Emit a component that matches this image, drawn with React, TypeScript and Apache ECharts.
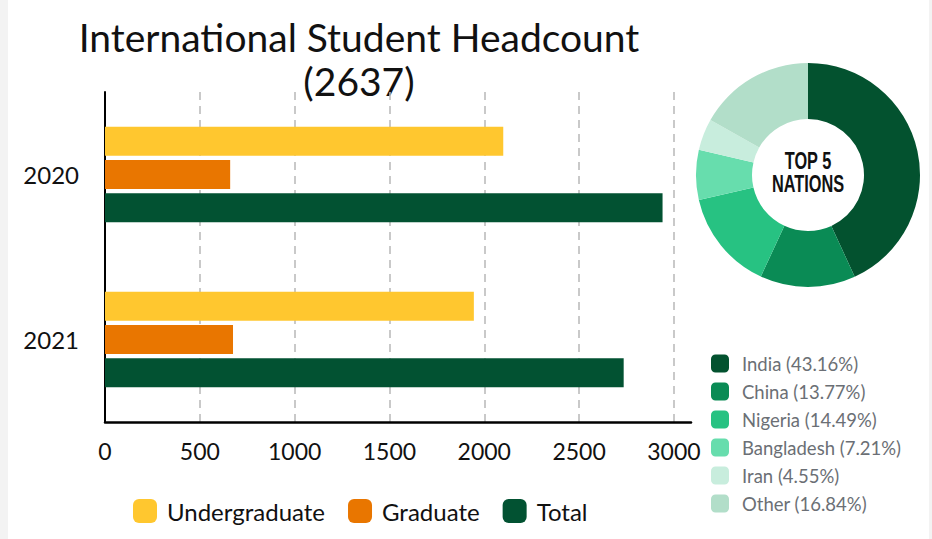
import React, { useEffect, useRef } from "react";
import * as echarts from "echarts";

const years = ["2020", "2021"];
const undergraduate = [2100, 1945];
const graduate = [660, 675];
const total = [2940, 2735];
const xTicks = [0, 500, 1000, 1500, 2000, 2500, 3000];

const nations = ["India", "China", "Nigeria", "Bangladesh", "Iran", "Other"];
const nationShares = [43.16, 13.77, 14.49, 7.21, 4.55, 16.84];
const nationColors = ["#03522F", "#0A8B55", "#27C282", "#67DDAD", "#C8EDDD", "#B2DEC9"];

const titleLines = ["International Student Headcount", "(2637)"];

const FONT = "Lato, 'Open Sans', sans-serif";

export default function App() {
  const ref = useRef<HTMLDivElement>(null);
  useEffect(() => {
    if (!ref.current) return;
    const chart = echarts.init(ref.current, undefined, { renderer: "svg" });
    chart.setOption({
      animation: false,
      backgroundColor: "#ffffff",
      textStyle: { fontFamily: FONT },
      graphic: [
        { type: "rect", left: 0, top: 0, shape: { width: 8, height: 539 }, style: { fill: "#f3f3f3" }, silent: true },
        { type: "rect", left: 929, top: 0, shape: { width: 3, height: 539 }, style: { fill: "#f3f3f3" }, silent: true },
        {
          type: "text",
          x: 359,
          y: 37,
          style: {
            text: titleLines[0],
            fill: "#111111",
            font: `39px ${FONT}`,
            lineHeight: 39,
            align: "center",
            verticalAlign: "middle",
          },
        },
        {
          type: "text",
          x: 359,
          y: 81,
          style: {
            text: titleLines[1],
            fill: "#111111",
            font: `39px ${FONT}`,
            lineHeight: 39,
            align: "center",
            verticalAlign: "middle",
          },
        },
        {
          type: "text",
          x: 808,
          y: 172,
          scaleX: 0.68,
          z: 100,
          style: {
            text: "TOP 5\nNATIONS",
            fill: "#111111",
            font: "bold 24px 'Liberation Sans', Arial, sans-serif",
            lineHeight: 23,
            align: "center",
            verticalAlign: "middle",
          },
        },
      ],
      grid: { left: 105, right: 241, top: 92, bottom: 117, containLabel: false },
      xAxis: {
        type: "value",
        min: 0,
        max: 3090,
        interval: 500,
        axisLine: { show: true, lineStyle: { color: "#000000", width: 2.5 } },
        axisTick: { show: false },
        axisLabel: {
          show: true,
          color: "#111111",
          fontSize: 23,
          fontFamily: FONT,
          margin: 17,
          showMaxLabel: false,
          formatter: (v: number) => (xTicks.includes(v) ? String(v) : ""),
        },
        splitLine: {
          show: true,
          showMinLine: false,
          showMaxLine: false,
          lineStyle: { color: "#b8b8b8", type: [8, 6], width: 1.5 },
        },
      },
      yAxis: {
        type: "category",
        data: years,
        inverse: true,
        axisLine: { show: true, lineStyle: { color: "#000000", width: 2 } },
        axisTick: { show: false },
        axisLabel: { color: "#111111", fontSize: 24, fontFamily: FONT, margin: 26 },
        splitLine: { show: false },
      },
      legend: [
        {
          data: ["Undergraduate", "Graduate", "Total"],
          left: 128,
          top: 494,
          itemWidth: 24,
          itemHeight: 24,
          itemGap: 23,
          icon: "roundRect",
          textStyle: { fontSize: 24, color: "#111111", fontFamily: FONT, padding: [0, 0, 0, 5] },
        },
        {
          data: nations,
          orient: "vertical",
          left: 706,
          top: 349,
          itemWidth: 18,
          itemHeight: 18,
          itemGap: 9,
          icon: "roundRect",
          selectedMode: false,
          textStyle: { fontSize: 18.5, color: "#6b6f75", fontFamily: FONT, padding: [0, 0, 0, 8] },
          formatter: (name: string) => {
            const i = nations.indexOf(name);
            return `${name} (${nationShares[i].toFixed(2)}%)`;
          },
        },
      ],
      series: [
        {
          name: "Undergraduate",
          type: "bar",
          data: undergraduate,
          barWidth: 29,
          barGap: "15%",
          itemStyle: { color: "#FFC72F" },
        },
        {
          name: "Graduate",
          type: "bar",
          data: graduate,
          barWidth: 29,
          barGap: "15%",
          itemStyle: { color: "#E97600" },
        },
        {
          name: "Total",
          type: "bar",
          data: total,
          barWidth: 29,
          barGap: "15%",
          itemStyle: { color: "#025232" },
        },
        {
          name: "Nations",
          type: "pie",
          center: [808, 175],
          radius: [56, 112],
          startAngle: 90,
          clockwise: true,
          label: { show: false },
          labelLine: { show: false },
          emphasis: { disabled: true },
          data: nations.map((n, i) => ({
            name: n,
            value: nationShares[i],
            itemStyle: { color: nationColors[i] },
          })),
        },
      ],
    });
    return () => chart.dispose();
  }, []);
  return (
    <div
      ref={ref}
      style={{ position: "fixed", left: 0, top: 0, width: 932, height: 539 }}
    />
  );
}
